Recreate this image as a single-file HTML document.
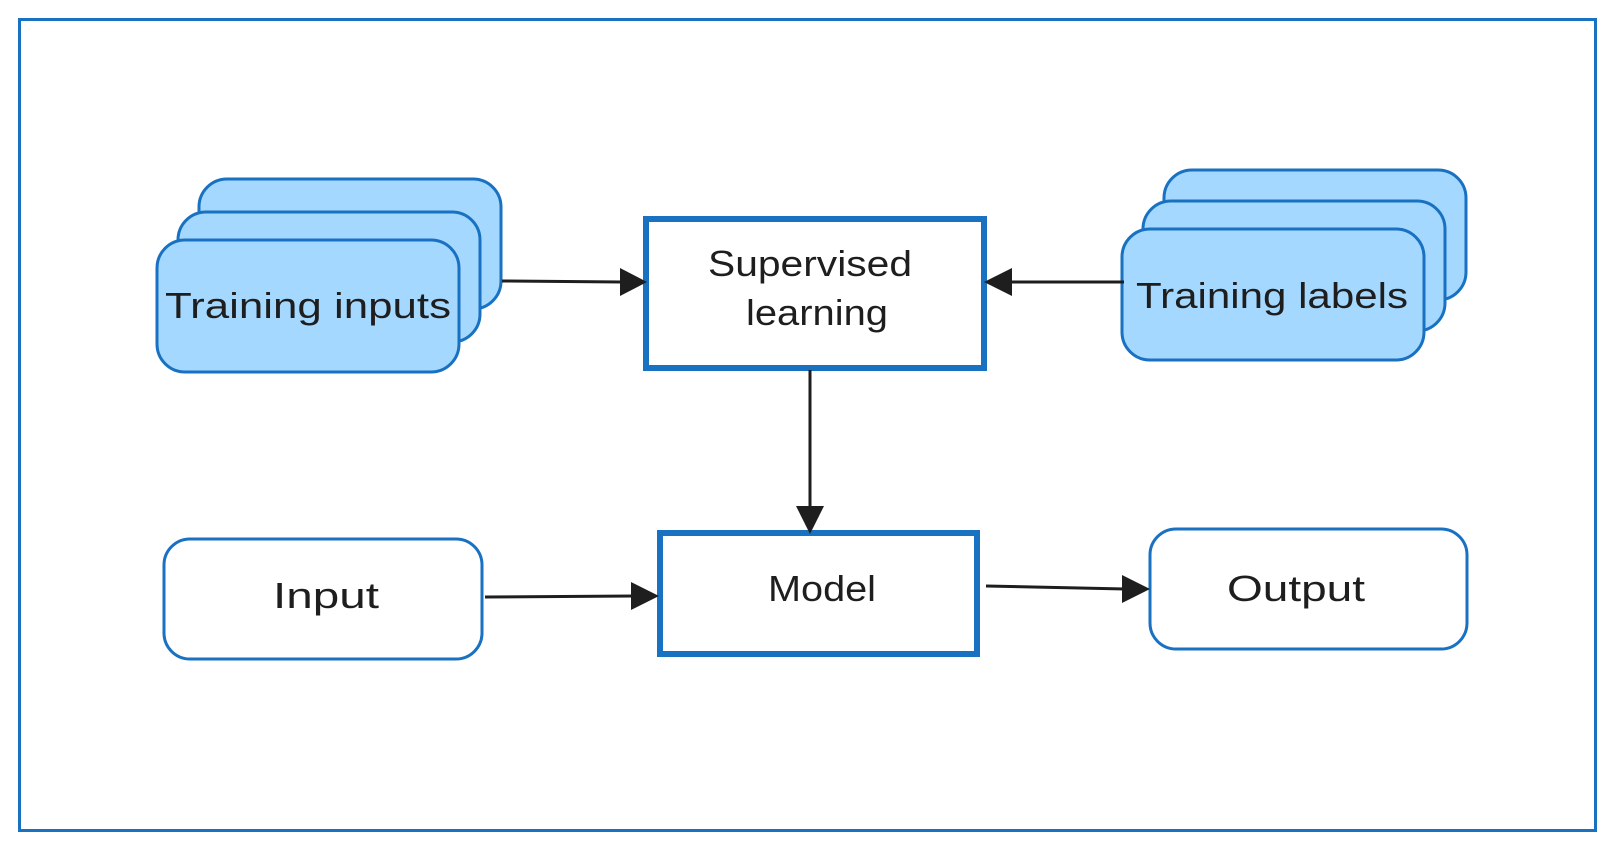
<!DOCTYPE html>
<html><head><meta charset="utf-8"><style>
html,body{margin:0;padding:0;background:#fff;}
svg{display:block;}
text{font-family:"Liberation Sans",sans-serif;fill:#1e1e1e;}
</style></head><body>
<svg width="1615" height="851" viewBox="0 0 1615 851" xmlns="http://www.w3.org/2000/svg">
<defs>
<marker id="ah" markerWidth="10" markerHeight="10" refX="9" refY="5" orient="auto" markerUnits="userSpaceOnUse" viewBox="0 0 10 10">
</marker>
</defs>
<rect x="19.5" y="19.5" width="1576" height="811" fill="#fff" stroke="#1971c2" stroke-width="3"/>

<!-- Training inputs stack -->
<g fill="#a5d8ff" stroke="#1971c2" stroke-width="3">
<rect x="199" y="179" width="302" height="130" rx="28"/>
<rect x="178" y="212" width="302" height="130" rx="28"/>
<rect x="157" y="240" width="302" height="132" rx="28"/>
</g>
<text x="308" y="318" font-size="36" text-anchor="middle" textLength="286" lengthAdjust="spacingAndGlyphs">Training inputs</text>

<!-- Training labels stack -->
<g fill="#a5d8ff" stroke="#1971c2" stroke-width="3">
<rect x="1164" y="170" width="302" height="130" rx="28"/>
<rect x="1143" y="201" width="302" height="130" rx="28"/>
<rect x="1122" y="229" width="302" height="131" rx="28"/>
</g>
<text x="1272" y="308" font-size="36" text-anchor="middle" textLength="272" lengthAdjust="spacingAndGlyphs">Training labels</text>

<!-- Supervised learning -->
<rect x="646" y="219" width="338" height="149" fill="#fff" stroke="#1971c2" stroke-width="6"/>
<text x="810" y="276" font-size="36" text-anchor="middle" textLength="204" lengthAdjust="spacingAndGlyphs">Supervised</text>
<text x="817" y="325" font-size="36" text-anchor="middle" textLength="142" lengthAdjust="spacingAndGlyphs">learning</text>

<!-- Model -->
<rect x="660" y="533" width="317" height="121" fill="#fff" stroke="#1971c2" stroke-width="6"/>
<text x="822" y="601" font-size="36" text-anchor="middle" textLength="108" lengthAdjust="spacingAndGlyphs">Model</text>

<!-- Input -->
<rect x="164" y="539" width="318" height="120" rx="26" fill="#fff" stroke="#1971c2" stroke-width="3"/>
<text x="326" y="608" font-size="36" text-anchor="middle" textLength="106" lengthAdjust="spacingAndGlyphs">Input</text>

<!-- Output -->
<rect x="1150" y="529" width="317" height="120" rx="26" fill="#fff" stroke="#1971c2" stroke-width="3"/>
<text x="1296" y="601" font-size="36" text-anchor="middle" textLength="138" lengthAdjust="spacingAndGlyphs">Output</text>

<!-- connectors -->
<g stroke="#1e1e1e" stroke-width="3" fill="none">
<line x1="502" y1="281" x2="622" y2="282"/>
<line x1="1124" y1="282" x2="1008" y2="282"/>
<line x1="810" y1="370" x2="810" y2="508"/>
<line x1="485" y1="597" x2="634" y2="596"/>
<line x1="986" y1="586" x2="1125" y2="589"/>
</g>
<g fill="#1e1e1e">
<polygon points="647,282 620,268 620,296"/>
<polygon points="984,282 1012,268 1012,296"/>
<polygon points="810,534 796,506 824,506"/>
<polygon points="659,596 631,582 631,610"/>
<polygon points="1150,589 1122,575 1122,603"/>
</g>
</svg>
</body></html>
